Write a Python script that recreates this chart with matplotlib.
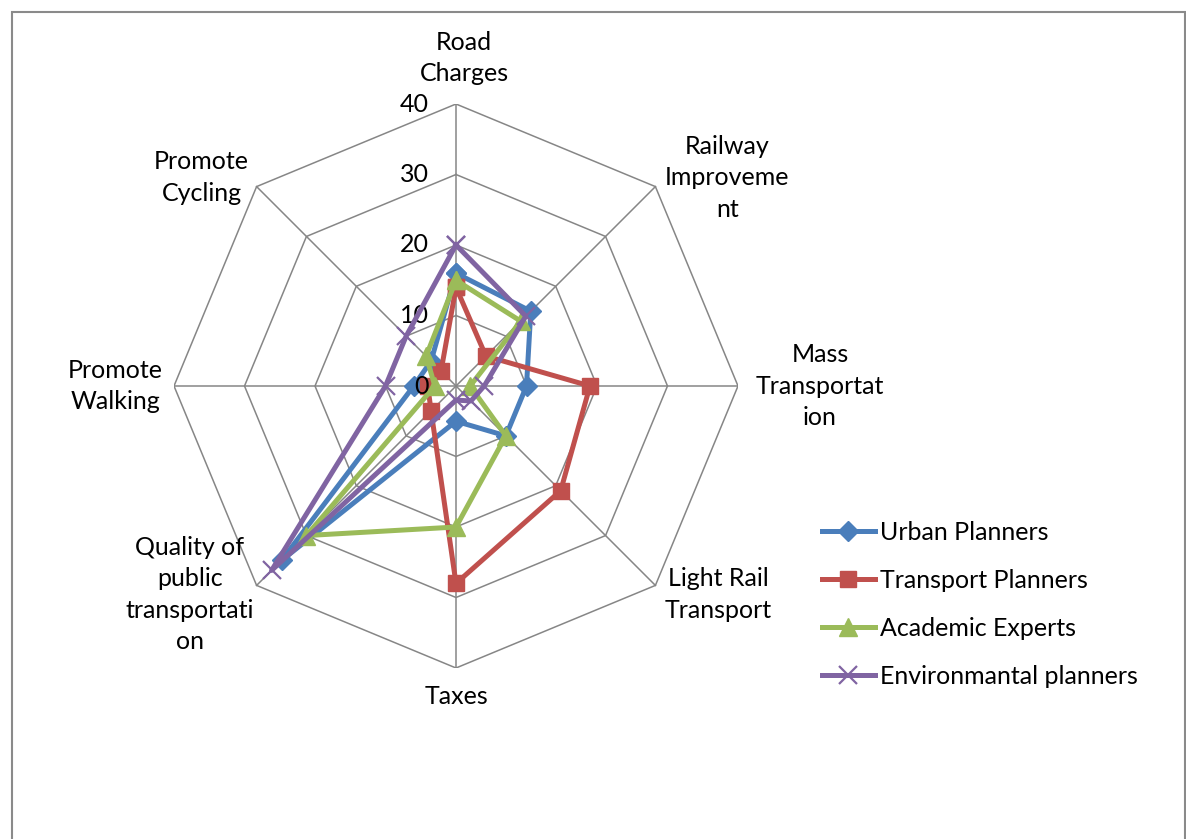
import numpy as np
import matplotlib
matplotlib.use("Agg")
import matplotlib.pyplot as plt
from matplotlib.lines import Line2D
from matplotlib.patches import Rectangle

# Radar data: eight measures, four respondent groups
categories = [
    "Road\nCharges",
    "Railway\nImproveme\nnt",
    "Mass\nTransportat\nion",
    "Light Rail\nTransport",
    "Taxes",
    "Quality of\npublic\ntransportati\non",
    "Promote\nWalking",
    "Promote\nCycling",
]
urban_planners     = [16, 15, 10, 10, 5, 35, 6, 5]
transport_planners = [14, 6, 19, 21, 28, 5, 4, 3]
academic_experts   = [15, 13, 2, 10, 20, 30, 3, 6]
env_planners       = [20, 14, 4, 3, 2, 37, 10, 10]
series_names = ["Urban Planners", "Transport Planners", "Academic Experts",
                "Environmantal planners"]
rings = [0, 10, 20, 30, 40]

FONT = "Lato"
FS = 18
GRID = "#868686"
COLORS = ["#4a7ebb", "#c0504d", "#9bbb59", "#8064a2"]
MARKERS = [("D", 10, 1.0), ("s", 11.5, 1.0), ("^", 12.5, 1.0), ("x", 13, 1.6)]

W, H = 1186, 839
fig = plt.figure(figsize=(W / 100, H / 100), dpi=100)
fig.patch.set_facecolor("white")

# outer chart frame (open at the bottom)
fig.patches.append(Rectangle((12 / W, -0.05), (1185 - 12) / W, 1.05 - 12 / H,
                             transform=fig.transFigure, fill=False,
                             edgecolor="#8a8a8a", linewidth=1.5))

# plot area: centre (456, 386) px, radius 282 px for the value 40
cx, cy, rad = 456, 386, 282
ax = fig.add_axes([(cx - rad) / W, 1 - (cy + rad) / H, 2 * rad / W, 2 * rad / H])
ax.set_xlim(-40, 40)
ax.set_ylim(-40, 40)
ax.axis("off")

n = len(categories)
ang = np.arange(n) * 2 * np.pi / n


def to_xy(vals):
    vals = np.asarray(vals, dtype=float)
    return vals * np.sin(ang), vals * np.cos(ang)


# octagonal grid and spokes
for r in rings[1:]:
    gx, gy = to_xy([r] * n)
    ax.plot(np.append(gx, gx[0]), np.append(gy, gy[0]), color=GRID, lw=1.1, zorder=1)
sx, sy = to_xy([rings[-1]] * n)
for x, y in zip(sx, sy):
    ax.plot([0, x], [0, y], color=GRID, lw=1.1, zorder=1)

# value labels along the top spoke
px = 40 / rad
for r in rings:
    ax.text(-27 * px, r, str(r), ha="right", va="center", fontsize=FS,
            family=FONT, color="black", zorder=6)

# series
all_series = [urban_planners, transport_planners, academic_experts, env_planners]
for i, (vals, name) in enumerate(zip(all_series, series_names)):
    x, y = to_xy(vals)
    m, ms, mew = MARKERS[i]
    ax.plot(np.append(x, x[0]), np.append(y, y[0]), color=COLORS[i], lw=3.6,
            marker=m, markersize=ms, markeredgewidth=mew, markeredgecolor=COLORS[i],
            markerfacecolor=COLORS[i], zorder=3 + i, solid_joinstyle="round")

# category labels, offset in pixels from the outer vertices
offsets = [(8, 46), (72, 9), (82, 0), (63, -9), (0, -29), (-67, -9), (-59, 0), (-55, 9)]
for lab, x, y, (ox, oy) in zip(categories, sx, sy, offsets):
    ax.annotate(lab, xy=(x, y), xytext=(ox, oy), textcoords="offset pixels",
                ha="center", va="center", multialignment="center",
                fontsize=FS, family=FONT, linespacing=1.45,
                annotation_clip=False)

# legend
handles = [Line2D([], [], color=COLORS[i], lw=3.6, marker=MARKERS[i][0],
                  markersize=MARKERS[i][1], markeredgewidth=MARKERS[i][2],
                  markerfacecolor=COLORS[i], markeredgecolor=COLORS[i])
           for i in range(4)]
fig.legend(handles, series_names, loc="center left",
           bbox_to_anchor=(812 / W, 1 - 604 / H), frameon=False,
           prop={"family": FONT, "size": FS}, handlelength=2.1,
           handletextpad=0.2, labelspacing=1.0, borderaxespad=0)

fig.savefig("out.png", dpi=100, facecolor="white")
